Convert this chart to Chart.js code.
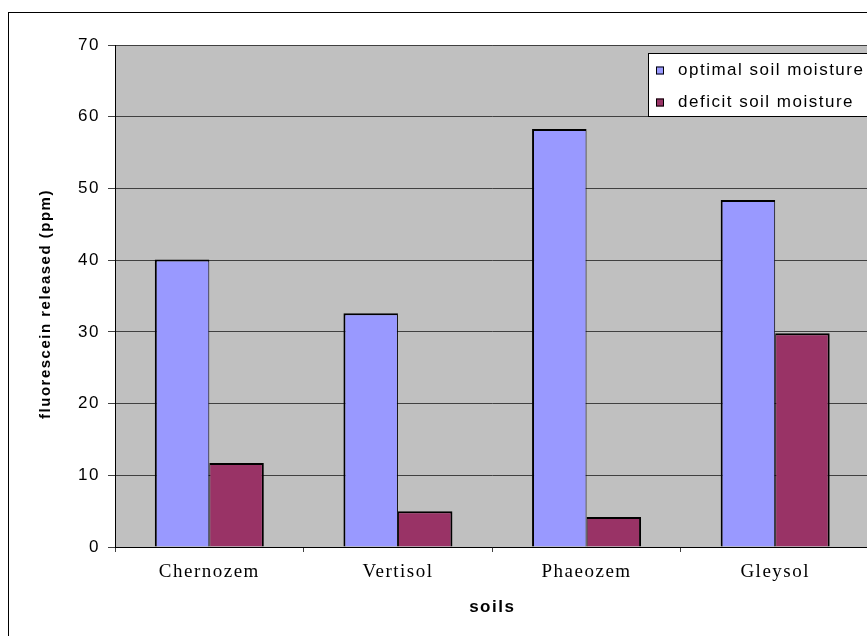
<!DOCTYPE html>
<html><head><meta charset="utf-8">
<script src="https://cdn.jsdelivr.net/npm/chart.js@4/dist/chart.umd.min.js"></script>
<style>
html,body{margin:0;padding:0;background:#fff;overflow:hidden;}
#wrap{position:absolute;left:0;top:0;width:900px;height:680px;}
</style></head><body>
<div id="wrap"><canvas id="c" width="900" height="680"></canvas></div>
<script>
const categories = ['Chernozem', 'Vertisol', 'Phaeozem', 'Gleysol'];
const optimalMoisture = [40.1, 32.6, 58.3, 48.4];
const deficitMoisture = [11.7, 5.0, 4.2, 29.8];
const seriesNames = ['optimal soil moisture', 'deficit soil moisture'];
const yMin = 0, yMax = 70, yStep = 10;
const yTitle = 'fluorescein released (ppm)';
const xTitle = 'soils';

const SANS = '"Liberation Sans", Arial, sans-serif';
const SERIF = '"Liberation Serif", "Times New Roman", serif';
const SPACING = '1.5px';

const framePlugin = {
  id: 'frame',
  beforeUpdate(chart) { chart.ctx.letterSpacing = SPACING; },
  beforeDraw(chart) {
    const ctx = chart.ctx, a = chart.chartArea;
    ctx.save();
    ctx.fillStyle = '#fff';
    ctx.fillRect(0, 0, chart.width, chart.height);
    ctx.strokeStyle = '#000'; ctx.lineWidth = 1;
    ctx.strokeRect(8.5, 12.5, chart.width, chart.height);
    ctx.fillStyle = '#C0C0C0';
    ctx.fillRect(a.left, a.top, a.right - a.left, a.bottom - a.top);
    ctx.strokeStyle = '#808080';
    ctx.strokeRect(a.left + 0.5, a.top + 0.5, a.right - a.left, a.bottom - a.top);
    ctx.restore();
    ctx.letterSpacing = SPACING;
  },
  afterDraw(chart) {
    const ctx = chart.ctx, a = chart.chartArea;
    ctx.save();
    ctx.letterSpacing = SPACING;
    // y axis title
    ctx.save();
    ctx.translate(46, (a.top + a.bottom) / 2 + 8);
    ctx.rotate(-Math.PI / 2);
    ctx.font = 'bold 15px ' + SANS;
    ctx.fillStyle = '#000';
    ctx.textAlign = 'center';
    ctx.textBaseline = 'middle';
    ctx.fillText(yTitle, 0, 0);
    ctx.restore();
    // legend
    const lx = 648, ly = 53, lh = 63;
    ctx.fillStyle = '#fff';
    ctx.fillRect(lx, ly, 400, lh);
    ctx.strokeStyle = '#000'; ctx.lineWidth = 1;
    ctx.strokeRect(lx + 0.5, ly + 0.5, 400, lh);
    ctx.font = '17px ' + SANS;
    ctx.textAlign = 'left';
    ctx.textBaseline = 'middle';
    chart.data.datasets.forEach((ds, i) => {
      const cy = 70.5 + i * 32;
      ctx.fillStyle = ds.backgroundColor;
      ctx.fillRect(656, cy - 4, 8, 8);
      ctx.strokeStyle = '#000';
      ctx.strokeRect(656.5, cy - 3.5, 7, 7);
      ctx.fillStyle = '#000';
      ctx.fillText(ds.label, 678, cy);
    });
    ctx.restore();
  }
};

new Chart(document.getElementById('c'), {
  type: 'bar',
  data: {
    labels: categories,
    datasets: [
      { label: seriesNames[0], data: optimalMoisture, backgroundColor: '#9999FF',
        borderColor: '#000', borderWidth: {top: 2, left: 2, right: 1, bottom: 0} },
      { label: seriesNames[1], data: deficitMoisture, backgroundColor: '#993366',
        borderColor: '#000', borderWidth: {top: 2, left: 1, right: 2, bottom: 0} }
    ]
  },
  options: {
    responsive: false,
    animation: false,
    devicePixelRatio: 1,
    layout: { padding: { left: 8, top: 45, right: 30.5, bottom: 53 } },
    datasets: { bar: { categoryPercentage: 0.578, barPercentage: 1.0 } },
    plugins: { legend: { display: false }, title: { display: false }, tooltip: { enabled: false } },
    scales: {
      x: {
        afterFit(s) { s.height = 80; },
        grid: { display: true, drawOnChartArea: false, drawTicks: true, tickLength: 5, color: '#404040', offset: true },
        border: { display: true, color: '#000', width: 1 },
        ticks: { color: '#000', padding: 9, font: { family: SERIF, size: 19 }, maxRotation: 0 },
        title: { display: true, text: xTitle, color: '#000', font: { family: SANS, size: 17, weight: 'bold' }, padding: { top: 0, bottom: 9 } }
      },
      y: {
        min: yMin, max: yMax,
        afterFit(s) { s.width = 107; },
        grid: { color: '#404040', lineWidth: 1, drawTicks: true, tickLength: 7 },
        border: { display: true, color: '#000', width: 1 },
        ticks: { stepSize: yStep, color: '#000', padding: 8, font: { family: SANS, size: 17 } },
        title: { display: false }
      }
    }
  },
  plugins: [framePlugin]
});
</script>
</body></html>
